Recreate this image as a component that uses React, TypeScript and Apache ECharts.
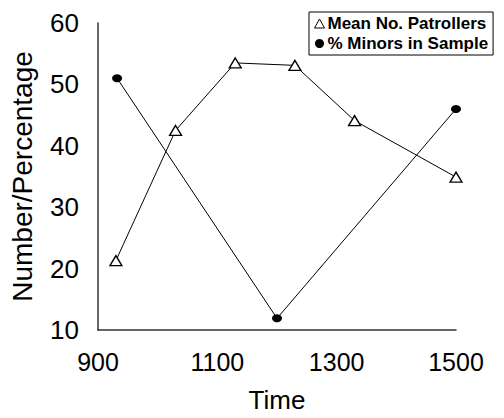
import React, { useEffect, useRef } from "react";
import * as echarts from "echarts";

const patrolTimes = [930, 1030, 1130, 1230, 1330, 1500];
const patrollers = [21.3, 42.5, 53.5, 53.1, 44.1, 34.9];
const minorTimes = [932, 1200, 1500];
const minors = [51.0, 11.9, 46.0];
const seriesNames = ["Mean No. Patrollers", "% Minors in Sample"];

const FONT = "'Liberation Sans', Arial, sans-serif";

export default function App() {
  const ref = useRef<HTMLDivElement>(null);
  useEffect(() => {
    if (!ref.current) return;
    const chart = echarts.init(ref.current, undefined, { renderer: "svg" });
    chart.setOption({
      animation: false,
      backgroundColor: "#fff",
      textStyle: { fontFamily: FONT, color: "#000" },
      grid: { left: 92, top: 23, right: 48, bottom: 80, containLabel: false },
      legend: {
        orient: "vertical",
        left: 309,
        top: 12,
        itemWidth: 10,
        itemHeight: 9,
        itemGap: 3,
        padding: [3, 5, 3, 5],
        borderColor: "#000",
        borderWidth: 1,
        textStyle: { fontFamily: FONT, fontSize: 17, fontWeight: "bold", color: "#000", padding: [0, 0, 0, -2] },
        data: [
          { name: seriesNames[0], icon: "triangle", itemStyle: { color: "#fff", borderColor: "#000", borderWidth: 1 } },
          { name: seriesNames[1], icon: "circle", itemStyle: { color: "#000" } },
        ],
      },
      xAxis: {
        type: "value",
        min: 900,
        max: 1500,
        interval: 200,
        name: "Time",
        nameLocation: "middle",
        nameGap: 57,
        nameTextStyle: { fontFamily: FONT, fontSize: 26, color: "#000" },
        axisLine: { show: true, lineStyle: { color: "#333", width: 1.5 } },
        axisTick: { show: false },
        splitLine: { show: false },
        axisLabel: { fontFamily: FONT, fontSize: 25, color: "#000", margin: 19, formatter: (v: number) => String(v) },
      },
      yAxis: {
        type: "value",
        min: 10,
        max: 60,
        interval: 10,
        name: "Number/Percentage",
        nameLocation: "middle",
        nameGap: 62,
        nameTextStyle: { fontFamily: FONT, fontSize: 28, color: "#000" },
        axisLine: { show: true, lineStyle: { color: "#333", width: 1.5 } },
        axisTick: { show: false },
        splitLine: { show: false },
        axisLabel: { fontFamily: FONT, fontSize: 26, color: "#000", margin: 19 },
      },
      series: [
        {
          name: seriesNames[0],
          type: "line",
          data: patrolTimes.map((t, i) => [t, patrollers[i]]),
          symbol: "triangle",
          symbolSize: [12, 10],
          lineStyle: { color: "#000", width: 1 },
          itemStyle: { color: "#fff", borderColor: "#000", borderWidth: 1.3 },
          z: 3,
        },
        {
          name: seriesNames[1],
          type: "line",
          data: minorTimes.map((t, i) => [t, minors[i]]),
          symbol: "circle",
          symbolSize: [10, 8],
          lineStyle: { color: "#000", width: 1 },
          itemStyle: { color: "#000" },
          z: 2,
        },
      ],
    });
    return () => chart.dispose();
  }, []);
  return <div ref={ref} style={{ width: 504, height: 418, position: "absolute", left: 0, top: 0 }} />;
}
